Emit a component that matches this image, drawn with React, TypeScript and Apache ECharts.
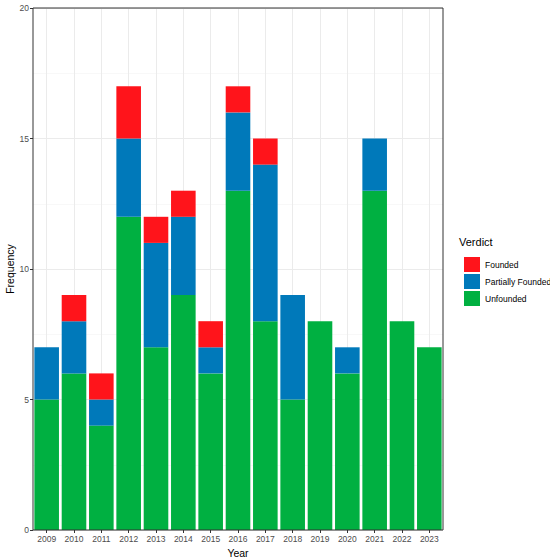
import React, { useEffect, useRef } from "react";
import * as echarts from "echarts";

const years = ["2009","2010","2011","2012","2013","2014","2015","2016","2017","2018","2019","2020","2021","2022","2023"];
const unfounded = [5, 6, 4, 12, 7, 9, 6, 13, 8, 5, 8, 6, 13, 8, 7];
const partiallyFounded = [2, 2, 1, 3, 4, 3, 1, 3, 6, 4, 0, 1, 2, 0, 0];
const founded = [0, 1, 1, 2, 1, 1, 1, 1, 1, 0, 0, 0, 0, 0, 0];
const yTicks = [0, 5, 10, 15, 20];

const RED = "#FF141B";
const BLUE = "#0079BA";
const GREEN = "#00B041";
const FONT = "Liberation Sans, Arial, sans-serif";

export default function App() {
  const ref = useRef<HTMLDivElement>(null);
  useEffect(() => {
    const chart = echarts.init(ref.current!, null, { renderer: "svg" });
    const mk = (name: string, data: number[], color: string) => ({
      name,
      type: "bar",
      stack: "v",
      data,
      barCategoryGap: "10%",
      itemStyle: { color },
      z: 3,
    });
    chart.setOption({
      animation: false,
      backgroundColor: "#fff",
      textStyle: { fontFamily: FONT },
      grid: { left: 33, right: 107, top: 8, bottom: 28, show: true, borderColor: "#333", borderWidth: 1, backgroundColor: "transparent", containLabel: false, outerBoundsMode: "none", z: 4 },
      xAxis: {
        type: "category",
        data: years,
        name: "Year",
        nameLocation: "middle",
        nameGap: 14,
        nameTextStyle: { color: "#000", fontSize: 10.5, fontFamily: FONT },
        axisLine: { show: false },
        axisTick: { show: true, alignWithLabel: true, interval: 0, length: 3, lineStyle: { color: "#333" } },
        axisLabel: { color: "#4d4d4d", fontSize: 8.5, margin: 4, interval: 0, fontFamily: FONT },
        splitLine: { show: true, alignWithLabel: true, interval: 0, lineStyle: { color: "#ebebeb", width: 1 } },
      },
      yAxis: {
        type: "value",
        min: 0,
        max: 20,
        interval: 5,
        axisLine: { show: false },
        axisTick: { show: true, length: 3, lineStyle: { color: "#333" } },
        axisLabel: { color: "#4d4d4d", fontSize: 8.5, margin: 4, fontFamily: FONT, formatter: (v: number) => (yTicks.includes(v) ? String(v) : "") },
        splitLine: { show: true, lineStyle: { color: "#ebebeb", width: 1 } },
        minorTick: { show: false, splitNumber: 2 },
        minorSplitLine: { show: true, lineStyle: { color: "#f4f4f4", width: 0.6 } },
      },
      legend: {
        orient: "vertical",
        left: 459,
        top: 252,
        itemWidth: 16,
        itemHeight: 15,
        itemGap: 2,
        icon: "rect",
        data: ["Founded", "Partially Founded", "Unfounded"],
        textStyle: { color: "#000", fontSize: 8.5, fontFamily: FONT },
      },
      graphic: [
        { type: "text", left: 459, top: 236, style: { text: "Verdict", fill: "#000", fontSize: 11, fontFamily: FONT } },
        { type: "text", x: 10, y: 269, rotation: Math.PI / 2, style: { text: "Frequency", fill: "#000", fontSize: 10.5, fontFamily: FONT, align: "center", verticalAlign: "middle" } },
      ],
      series: [
        mk("Unfounded", unfounded, GREEN),
        mk("Partially Founded", partiallyFounded, BLUE),
        mk("Founded", founded, RED),
      ],
    });
    return () => chart.dispose();
  }, []);
  return <div ref={ref} style={{ width: 550, height: 558, position: "absolute", left: 0, top: 0 }} />;
}
